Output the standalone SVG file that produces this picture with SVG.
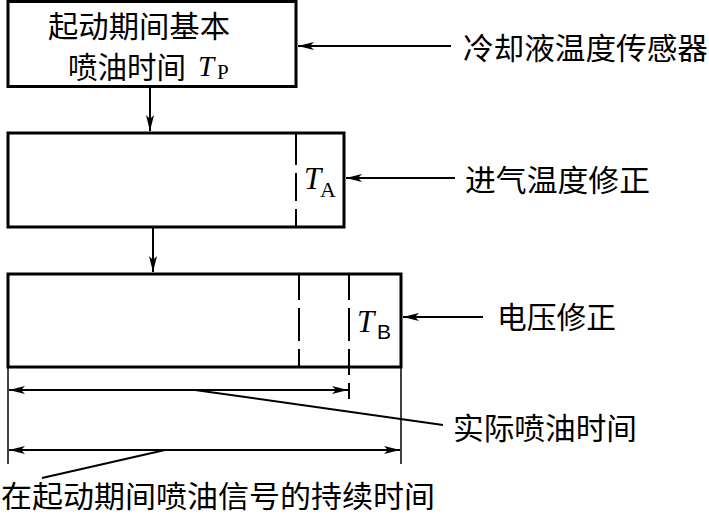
<svg xmlns="http://www.w3.org/2000/svg" width="709" height="517" viewBox="0 0 709 517">
<style>
.box{fill:none;stroke:#000;stroke-width:3}
.dash{fill:none;stroke:#000;stroke-width:2}
.ln{fill:none;stroke:#000;stroke-width:2}
.thin{fill:none;stroke:#000;stroke-width:1.5}
.cn{font-family:"Noto Sans CJK SC","Liberation Serif",serif;font-size:30px;fill:#000}
.it{font-family:"Liberation Serif",serif;font-style:italic;fill:#000}
.sub{font-family:"Liberation Serif",serif;fill:#000}
.subs{font-family:"Liberation Sans",sans-serif;fill:#000}
</style>
<defs>
<marker id="ah" viewBox="0 0 16 8" refX="16" refY="4" markerWidth="16" markerHeight="8" markerUnits="userSpaceOnUse" orient="auto-start-reverse">
<path d="M0,0 L16,4 L0,8 L4,4 Z" fill="#000"/>
</marker>
</defs>
<g id="box1">
<rect class="box" x="8" y="1.5" width="288" height="85"/>
<text class="cn" x="48" y="37" textLength="182" lengthAdjust="spacingAndGlyphs">起动期间基本</text>
<text class="cn" x="68" y="78" textLength="118" lengthAdjust="spacingAndGlyphs">喷油时间</text>
<text class="it" x="198" y="76" font-size="29">T</text>
<text class="sub" x="217" y="79" font-size="21">P</text>
</g>
<g id="box2">
<rect class="box" x="8" y="133" width="336" height="94"/>
<line class="dash" x1="296" y1="133" x2="296" y2="227" stroke-dasharray="32,8,28,8"/>
<text class="it" x="304" y="189" font-size="31">T</text>
<text class="sub" x="320" y="197" font-size="22">A</text>
</g>
<g id="box3">
<rect class="box" x="8" y="274" width="393" height="93"/>
<line class="dash" x1="299" y1="274" x2="299" y2="367" stroke-dasharray="26,8,33,8"/>
<line class="dash" x1="349" y1="274" x2="349" y2="399" stroke-dasharray="26,8,33,8"/>
<text class="it" x="357" y="332" font-size="31">T</text>
<text class="subs" x="377" y="339" font-size="21">B</text>
</g>
<g id="labels">
<text class="cn" x="463" y="59" textLength="245" lengthAdjust="spacingAndGlyphs">冷却液温度传感器</text>
<text class="cn" x="465" y="191" textLength="185" lengthAdjust="spacingAndGlyphs">进气温度修正</text>
<text class="cn" x="497" y="328" textLength="119" lengthAdjust="spacingAndGlyphs">电压修正</text>
<text class="cn" x="453" y="439" textLength="184" lengthAdjust="spacingAndGlyphs">实际喷油时间</text>
<text class="cn" x="1" y="507" textLength="434" lengthAdjust="spacingAndGlyphs">在起动期间喷油信号的持续时间</text>
</g>
<g id="connectors">
<line class="ln" x1="150" y1="88" x2="150" y2="131" marker-end="url(#ah)"/>
<line class="ln" x1="153" y1="228" x2="153" y2="272" marker-end="url(#ah)"/>
<line class="ln" x1="451" y1="46" x2="298" y2="46" marker-end="url(#ah)"/>
<line class="ln" x1="455" y1="178" x2="346" y2="178" marker-end="url(#ah)"/>
<line class="ln" x1="483" y1="317" x2="403" y2="317" marker-end="url(#ah)"/>
<line class="thin" x1="8" y1="368" x2="8" y2="464"/>
<line class="thin" x1="401" y1="368" x2="401" y2="464"/>
<line class="ln" x1="9" y1="390" x2="348" y2="390" marker-start="url(#ah)" marker-end="url(#ah)"/>
<line class="ln" x1="9" y1="450" x2="400" y2="450" marker-start="url(#ah)" marker-end="url(#ah)"/>
<line class="ln" x1="195" y1="390" x2="443" y2="425"/>
<line class="ln" x1="165" y1="450" x2="42" y2="478"/>
</g>
</svg>
